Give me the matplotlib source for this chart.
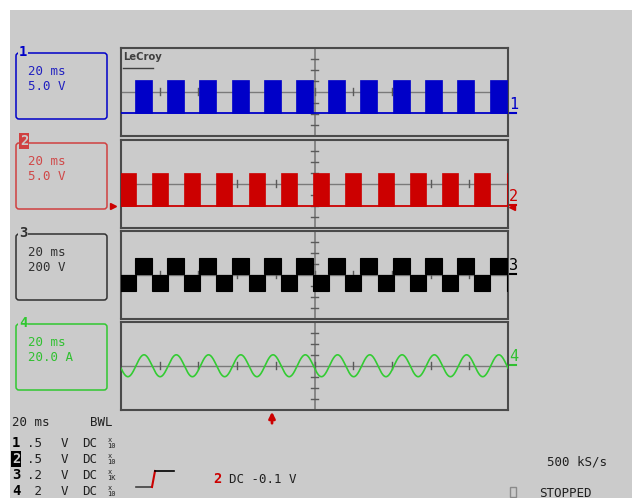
#!/usr/bin/env python3
"""
LeCroy scope screen - 4 channels, 20 ms/div
"""

import numpy as np
import matplotlib
matplotlib.use('Agg')
import matplotlib.pyplot as plt
from matplotlib.patches import Rectangle, FancyBboxPatch

W, H = 637, 498
SCREEN_BG = '#cbcbcb'
GRID = '#7a7a7a'
FRAME = '#4a4a4a'
BLUE = '#0000c8'
RED = '#cc0000'
BLACK = '#000000'
GREEN = '#33cc33'
MONO = 'DejaVu Sans Mono'

# time base: 10 div x 20 ms
TIME_MS = [0, 200]
DIVS_Y = [-4, 4]

# channel 1 (blue) - rising edges, in ms
CH1_RISE_MS = [7.2, 23.8, 40.3, 57.4, 73.9, 90.4, 107.0, 123.5, 140.6, 157.1, 173.6, 190.7]
CH1_WIDTH_MS = 8.8
CH1_LEVELS = [-1.9, 1.1]          # low / high, in divisions

# channel 2 (red)
CH2_RISE_MS = [-0.8, 16.0, 32.6, 49.1, 66.1, 82.7, 99.2, 115.8, 132.8, 149.4, 165.9, 182.4, 199.5]
CH2_WIDTH_MS = 8.3
CH2_LEVELS = [-2.05, 0.95]

# channel 3 (black) - positive blocks follow ch1, negative blocks follow ch2
CH3_POS = [0.05, 1.5]
CH3_NEG = [-1.5, -0.05]

# channel 4 (green) - 60 Hz current
CH4_AMP_DIV = 1.0
CH4_PERIOD_MS = 16.67
CH4_PEAK_MS = 11.9

PANEL_TOPS = [48, 140, 231, 322]
PANEL_H = 87.5
PANEL_X0, PANEL_W = 121, 387

BOXES = [
    ('1', 53, BLUE, '#2020c0', ['20 ms', '5.0 V']),
    ('2', 143, '#d04040', '#d04848', ['20 ms', '5.0 V']),
    ('3', 234, '#303030', '#303030', ['20 ms', '200 V']),
    ('4', 324, '#30c830', '#30c030', ['20 ms', '20.0 A']),
]

MARKERS = [('1', 113, BLUE), ('2', 205, RED), ('3', 274, BLACK), ('4', 365, '#30c030')]

BOTTOM_ROWS = [('1', '.5'), ('2', '.5'), ('3', '.2'), ('4', ' 2')]
BOTTOM_PROBE = ['10', '10', '1K', '10']


def panel(fig, top):
    ax = fig.add_axes([PANEL_X0 / W, 1 - (top + PANEL_H) / H, PANEL_W / W, PANEL_H / H])
    ax.set_xlim(*TIME_MS)
    ax.set_ylim(*DIVS_Y)
    ax.set_xticks([])
    ax.set_yticks([])
    ax.patch.set_alpha(0)
    for sp in ax.spines.values():
        sp.set_color(FRAME)
        sp.set_linewidth(1.5)
    ax.axhline(0, color=GRID, lw=1, zorder=1)
    ax.axvline(100, color=GRID, lw=1.2, zorder=1)
    for k in range(1, 10):
        ax.plot([k * 20, k * 20], [-0.3, 0.3], color='#5a5a5a', lw=1, zorder=1)
    for k in (-3, -2, -1, 1, 2, 3):
        ax.plot([98, 102], [k, k], color='#5a5a5a', lw=1, zorder=1)
    return ax


def main():
    fig = plt.figure(figsize=(W / 100, H / 100), dpi=100)
    fig.patch.set_facecolor('white')

    bg = fig.add_axes([0, 0, 1, 1])
    bg.set_xlim(0, W)
    bg.set_ylim(H, 0)
    bg.axis('off')
    bg.add_patch(Rectangle((10, 10), 622, 488, facecolor=SCREEN_BG, edgecolor='none'))

    axes = [panel(fig, t) for t in PANEL_TOPS]

    # ch1
    ax = axes[0]
    lo, hi = CH1_LEVELS
    ax.plot(TIME_MS, [lo, lo], color=BLUE, lw=1.3, zorder=3)
    ax.bar(CH1_RISE_MS, hi - lo, width=CH1_WIDTH_MS, bottom=lo, align='edge',
           color=BLUE, edgecolor=BLUE, lw=0.5, zorder=3)
    ax.text(1, 3.6, 'LeCroy', fontsize=8, fontweight='bold', color='#404040',
            ha='left', va='top', family='DejaVu Sans', stretch='condensed')
    ax.plot([1, 16.5], [2.2, 2.2], color='#404040', lw=1)

    # ch2
    ax = axes[1]
    lo, hi = CH2_LEVELS
    ax.plot(TIME_MS, [lo, lo], color=RED, lw=1.3, zorder=3)
    ax.bar(CH2_RISE_MS, hi - lo, width=CH2_WIDTH_MS, bottom=lo, align='edge',
           color=RED, edgecolor=RED, lw=0.5, zorder=3)

    # ch3
    ax = axes[2]
    ax.bar(CH1_RISE_MS, CH3_POS[1] - CH3_POS[0], width=CH1_WIDTH_MS, bottom=CH3_POS[0],
           align='edge', color=BLACK, edgecolor=BLACK, lw=0.8, zorder=3)
    ax.bar(CH2_RISE_MS, CH3_NEG[1] - CH3_NEG[0], width=CH2_WIDTH_MS, bottom=CH3_NEG[0],
           align='edge', color=BLACK, edgecolor=BLACK, lw=0.8, zorder=3)

    # ch4
    ax = axes[3]
    t = np.linspace(TIME_MS[0], TIME_MS[1], 1200)
    ax.plot(t, CH4_AMP_DIV * np.cos(2 * np.pi * (t - CH4_PEAK_MS) / CH4_PERIOD_MS),
            color=GREEN, lw=1.2, zorder=3)

    # channel boxes on the left
    for label, top, edge, tcol, lines in BOXES:
        bg.add_patch(FancyBboxPatch((16, top), 91, 66, boxstyle='round,pad=0,rounding_size=3',
                                    facecolor='none', edgecolor=edge, lw=1.1))
        if label == '2':
            bg.text(20, top - 2, label, fontsize=10, fontweight='bold', color=SCREEN_BG,
                    family=MONO, ha='left', va='center',
                    bbox=dict(boxstyle='square,pad=0.05', facecolor=edge, edgecolor='none'))
        else:
            bg.text(19, top - 1, label, fontsize=10, fontweight='bold', color=edge,
                    family=MONO, ha='left', va='center',
                    bbox=dict(boxstyle='square,pad=0.05', facecolor=SCREEN_BG, edgecolor='none'))
        bg.text(28, top + 18, lines[0], fontsize=9, color=tcol, family=MONO, ha='left', va='center')
        bg.text(28, top + 33, lines[1], fontsize=9, color=tcol, family=MONO, ha='left', va='center')

    # ground markers on the right
    for label, y, col in MARKERS:
        bg.text(509, y - 1, label, fontsize=11, color=col, family=MONO, ha='left', va='bottom')
        bg.plot([508, 516], [y, y], color=col, lw=1.5)

    # trigger level arrows (ch2)
    bg.plot([113], [206], marker='>', color=RED, markersize=5)
    bg.plot([512], [207], marker='<', color=RED, markersize=5)

    # trigger position
    bg.annotate('', xy=(272, 409), xytext=(272, 426),
                arrowprops=dict(arrowstyle='-|>', color=RED, lw=2, mutation_scale=9))

    # bottom readout
    bg.text(12, 422, '20 ms', fontsize=9, family=MONO, color='#202020', va='center')
    bg.text(90, 422, 'BWL', fontsize=9, family=MONO, color='#202020', va='center')
    for i, (ch, volts) in enumerate(BOTTOM_ROWS):
        y = 443 + i * 16
        if ch == '2':
            bg.text(12, y, ch, fontsize=10, fontweight='bold', family=MONO, color=SCREEN_BG,
                    va='center', bbox=dict(boxstyle='square,pad=0.05', facecolor=BLACK, edgecolor='none'))
        else:
            bg.text(12, y, ch, fontsize=10, fontweight='bold', family=MONO, color=BLACK, va='center')
        bg.text(27, y, volts, fontsize=9, family=MONO, color='#202020', va='center')
        bg.text(61, y, 'V', fontsize=9, family=MONO, color='#202020', va='center')
        bg.text(82, y, 'DC', fontsize=9, family=MONO, color='#202020', va='center')
        bg.text(108, y - 3.5, 'x', fontsize=5, family=MONO, color='#202020', va='center')
        bg.text(107, y + 3, BOTTOM_PROBE[i], fontsize=5, family=MONO, color='#202020', va='center')

    # trigger slope icon
    bg.plot([136, 152], [487, 487], color='#404040', lw=1.2)
    bg.plot([152, 155], [487, 471], color=RED, lw=1.5)
    bg.plot([155, 174], [471, 471], color=BLACK, lw=1.2)
    bg.text(213, 479, '2', fontsize=10, fontweight='bold', family=MONO, color=RED, va='center')
    bg.text(229, 479, 'DC -0.1 V', fontsize=9, family=MONO, color='#202020', va='center')

    bg.text(547, 462, '500 kS/s', fontsize=9, family=MONO, color='#202020', va='center')
    bg.add_patch(Rectangle((510, 487), 6, 10, facecolor='none', edgecolor='#8a8a8a', lw=1))
    bg.text(539, 493, 'STOPPED', fontsize=9, family=MONO, color='#202020', va='center')

    fig.savefig('out.png', dpi=100, facecolor='white')
    plt.close(fig)


if __name__ == '__main__':
    main()
